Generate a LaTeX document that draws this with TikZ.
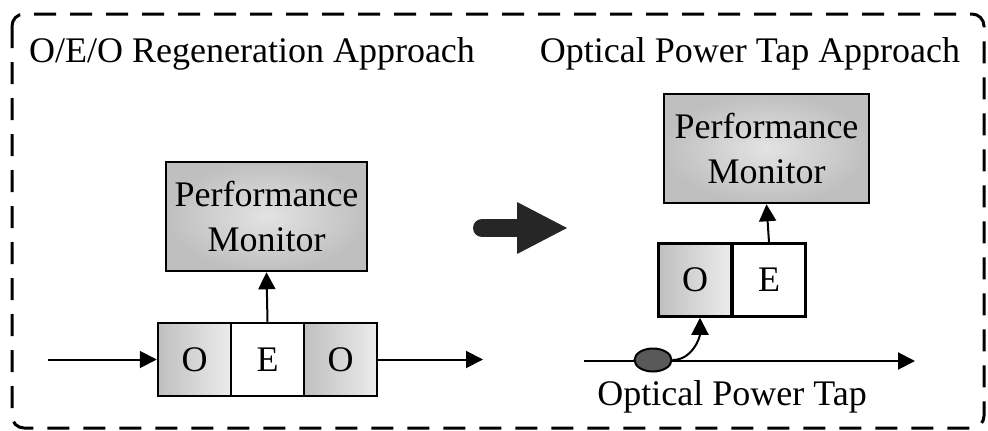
\documentclass[tikz,border=0pt]{standalone}
\usepackage{fontspec}
\setmainfont{Liberation Serif}
\usetikzlibrary{arrows.meta,shapes.geometric}
\begin{document}
\begin{tikzpicture}[x=1pt,y=-1pt,
  every node/.style={font=\fontsize{36}{45}\selectfont, inner sep=0pt},
  pmbox/.style={draw, line width=2.5pt, minimum width=#1, minimum height=109pt, align=center,
    inner color=gray!22, outer color=gray!50},
  ocell/.style={draw, line width=2.5pt, minimum width=73pt, minimum height=73pt,
    left color=gray!50, right color=gray!15},
  ecell/.style={draw, line width=2.5pt, minimum width=73pt, minimum height=73pt, fill=white},
  conn/.style={line width=2pt, -{Triangle[length=17pt,width=17pt]}},
  frame/.style={line width=3pt, rounded corners=12pt, dash pattern=on 22pt off 14pt}
]
\useasboundingbox (0,0) rectangle (988,431);
\draw[frame] (12,14) rectangle (984,428);

% titles
\node[anchor=base] (t1) at (252,62) {O/E/O Regeneration Approach};
\node[anchor=base] (t2) at (750,62) {Optical Power Tap Approach};

% left: O/E/O regeneration
\node[pmbox=201pt] (pm1) at (266.5,216.5) {Performance\\Monitor};
\node[ocell] (o1) at (194.5,359.5) {O};
\node[ecell] (e1) at (267.5,359.5) {E};
\node[ocell] (o2) at (340.5,359.5) {O};
\coordinate (in1) at (48,359.5);
\coordinate (out1) at (483,359.5);
\draw[conn] (in1) -- (o1.west);
\draw[conn] (o2.east) -- (out1);
\draw[conn] (e1.north) -- (pm1.south);

% big arrow
\draw[line width=18pt, line cap=round, color=black!85] (482,228) -- (520,228);
\fill[black!85] (517,202) -- (567,228) -- (517,254) -- cycle;

% right: optical power tap
\node[pmbox=205pt] (pm2) at (766.5,148.5) {Performance\\Monitor};
\node[ocell] (o3) at (695,280) {O};
\node[ecell] (e3) at (769,280) {E};
\draw[conn] (e3.north) -- (pm2.south);
\coordinate (in2) at (584,361);
\coordinate (out2) at (915,361);
\draw[conn] (in2) -- (out2);
\node[ellipse, draw, line width=2pt, fill=black!65, minimum width=37pt, minimum height=23pt] (tap) at (653,360) {};
\draw[conn] (tap.east) to[out=0,in=-90] ([xshift=5pt]o3.south);
\node[anchor=base] (tl) at (732,405) {Optical Power Tap};
\end{tikzpicture}
\end{document}
